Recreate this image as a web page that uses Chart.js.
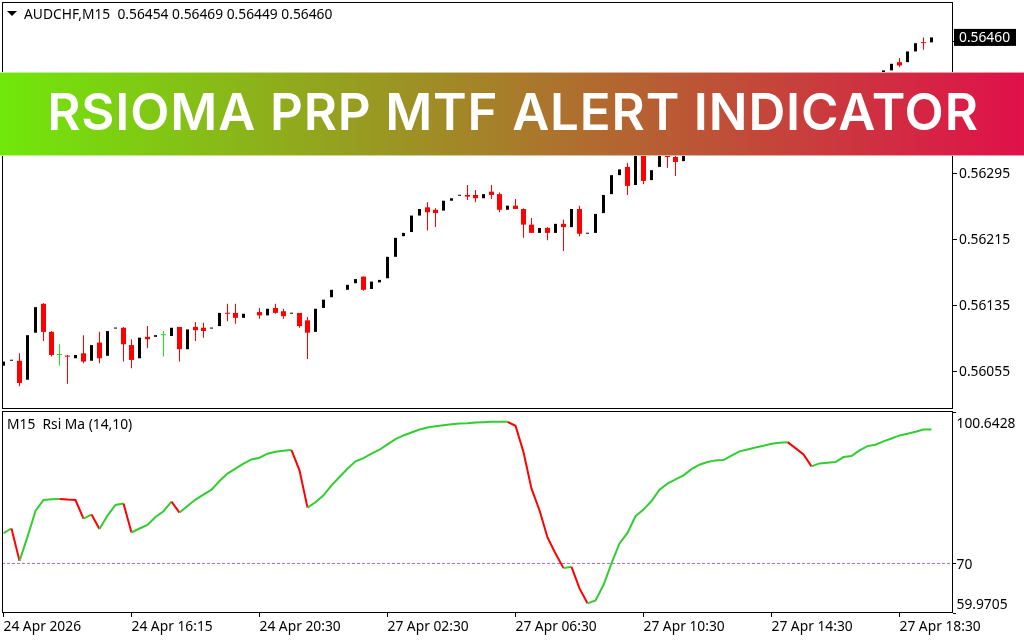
<!DOCTYPE html>
<html>
<head>
<meta charset="utf-8">
<title>AUDCHF M15 RSIOMA</title>
<script src="https://cdn.jsdelivr.net/npm/chart.js@4/dist/chart.umd.min.js"></script>
<style>
    html, body { margin: 0; background: #fff; }
    #page { position: relative; width: 1024px; height: 640px; overflow: hidden; font-family: "Noto Sans", sans-serif; color: #000; }
    canvas { position: absolute; left: 0; }
    #priceChart { top: 0; }
    #rsiChart { top: 411px; }
    .label { position: absolute; font-size: 13.8px; line-height: 18px; white-space: pre; }
    #arrow { position: absolute; left: 7px; top: 11px; width: 0; height: 0; border-left: 5px solid transparent; border-right: 5px solid transparent; border-top: 5px solid #000; }
    #banner {
        position: absolute; left: 0; top: 72px; width: 1024px; height: 84px; box-sizing: border-box;
        border-top: 1px solid rgba(255, 255, 255, .55); border-bottom: 1px solid rgba(255, 255, 255, .55);
        background: linear-gradient(90deg, #70e80a, #e0104a);
        color: #fff; font-family: Inter, sans-serif; font-weight: 600; font-size: 51px; letter-spacing: 0.85px; line-height: 78px;
        text-align: center; white-space: nowrap; padding-left: 2px;
    }
</style>
</head>
<body>
<div id="page">
    <canvas id="priceChart" width="1024" height="411"></canvas>
    <canvas id="rsiChart" width="1024" height="229"></canvas>
    <div id="arrow"></div>
    <div class="label" style="left:24px;top:5px">AUDCHF,M15  0.56454 0.56469 0.56449 0.56460</div>
    <div class="label" style="left:7px;top:415px">M15  Rsi Ma (14,10)</div>
    <div id="banner">RSIOMA PRP MTF ALERT INDICATOR</div>
</div>
<script>
/*===============
data, nulls are bars hidden behind the banner or not visible
====================*/
const opens = [
    0.56062, 0.56068, 0.56068, 0.56045, 0.56102, 0.56137, 0.56103, 0.56075, 0.56074, 0.56071,
    0.56077, 0.56068, 0.56090, 0.56074, 0.56107, 0.56108, 0.56087, 0.56071, 0.56097, 0.56097,
    0.56099, 0.56098, 0.56109, 0.56082, 0.56109, 0.56108, 0.56107, 0.56110, 0.56126, 0.56126,
    0.56120, null, 0.56127, 0.56123, 0.56132, 0.56128, 0.56125, 0.56126, 0.56117, 0.56103,
    0.56132, 0.56145, null, 0.56154, 0.56162, 0.56170, 0.56155, 0.56163, 0.56168, 0.56194,
    0.56219, 0.56224, 0.56244, 0.56254, 0.56251, 0.56250, 0.56262, 0.56268, 0.56269, 0.56269,
    0.56265, 0.56273, 0.56270, 0.56251, 0.56256, 0.56252, 0.56233, 0.56223, 0.56229, 0.56223,
    0.56234, 0.56230, 0.56252, 0.56222, 0.56223, 0.56247, 0.56270, 0.56293, 0.56303, 0.56281,
    0.56330, 0.56287, 0.56303, 0.56323, 0.56315, 0.56310, null, null, null, null,
    0.56336, null, null, null, null, null, null, null, null, null,
    null, null, null, null, null, null, null, null, null, null,
    0.56417, 0.56420, 0.56430, 0.56430, 0.56443, 0.56454, 0.56454
];
const highs = [
    0.56067, 0.56069, 0.56077, 0.56099, 0.56133, 0.56138, 0.56104, 0.56088, 0.56075, 0.56075,
    0.56099, 0.56087, 0.56103, 0.56104, 0.56108, 0.56109, 0.56094, 0.56096, 0.56110, 0.56099,
    0.56104, 0.56108, 0.56109, 0.56106, 0.56115, 0.56114, 0.56108, 0.56126, 0.56137, 0.56137,
    0.56125, null, 0.56132, 0.56131, 0.56137, 0.56131, 0.56126, 0.56126, 0.56121, 0.56131,
    0.56142, 0.56154, null, 0.56160, 0.56167, 0.56170, 0.56164, 0.56166, 0.56194, 0.56217,
    0.56223, 0.56244, 0.56252, 0.56260, 0.56253, 0.56262, 0.56265, 0.56269, 0.56281, 0.56275,
    0.56270, 0.56281, 0.56272, 0.56256, 0.56264, 0.56253, 0.56241, 0.56229, 0.56230, 0.56234,
    0.56239, 0.56252, 0.56256, 0.56223, 0.56246, 0.56269, 0.56293, 0.56300, 0.56308, 0.56323,
    0.56330, 0.56299, 0.56323, 0.56323, 0.56321, 0.56323, null, null, null, null,
    0.56336, null, null, null, null, null, null, null, null, null,
    null, null, null, null, null, null, null, null, null, null,
    0.56420, 0.56428, 0.56435, 0.56443, 0.56453, 0.56460, 0.56469
];
const lows = [
    0.56062, 0.56068, 0.56037, 0.56045, 0.56102, 0.56092, 0.56073, 0.56062, 0.56040, 0.56071,
    0.56065, 0.56068, 0.56065, 0.56074, 0.56107, 0.56067, 0.56059, 0.56071, 0.56083, 0.56097,
    0.56073, 0.56098, 0.56067, 0.56082, 0.56092, 0.56096, 0.56107, 0.56110, 0.56116, 0.56113,
    0.56120, null, 0.56119, 0.56123, 0.56125, 0.56119, 0.56125, 0.56108, 0.56070, 0.56103,
    0.56132, 0.56145, null, 0.56154, 0.56162, 0.56153, 0.56155, 0.56163, 0.56168, 0.56194,
    0.56219, 0.56224, 0.56244, 0.56226, 0.56230, 0.56250, 0.56262, 0.56268, 0.56263, 0.56260,
    0.56265, 0.56264, 0.56248, 0.56251, 0.56252, 0.56217, 0.56223, 0.56223, 0.56214, 0.56223,
    0.56201, 0.56230, 0.56219, 0.56222, 0.56223, 0.56247, 0.56270, 0.56293, 0.56269, 0.56281,
    0.56282, 0.56287, 0.56303, 0.56302, 0.56292, 0.56310, null, null, null, null,
    0.56317, null, null, null, null, null, null, null, null, null,
    null, null, null, null, null, null, null, null, null, null,
    0.56417, 0.56420, 0.56424, 0.56430, 0.56443, 0.56445, 0.56449
];
const closes = [
    0.56067, 0.56069, 0.56041, 0.56099, 0.56133, 0.56103, 0.56075, 0.56075, 0.56073, 0.56075,
    0.56067, 0.56087, 0.56071, 0.56104, 0.56108, 0.56088, 0.56069, 0.56096, 0.56094, 0.56099,
    0.56099, 0.56108, 0.56082, 0.56106, 0.56105, 0.56104, 0.56108, 0.56126, 0.56125, 0.56120,
    0.56125, null, 0.56123, 0.56131, 0.56126, 0.56122, 0.56126, 0.56110, 0.56102, 0.56131,
    0.56142, 0.56154, null, 0.56160, 0.56167, 0.56154, 0.56164, 0.56166, 0.56194, 0.56217,
    0.56223, 0.56244, 0.56252, 0.56248, 0.56247, 0.56262, 0.56265, 0.56269, 0.56267, 0.56265,
    0.56270, 0.56269, 0.56251, 0.56256, 0.56252, 0.56233, 0.56223, 0.56229, 0.56223, 0.56234,
    0.56230, 0.56252, 0.56222, 0.56223, 0.56246, 0.56269, 0.56293, 0.56300, 0.56280, 0.56323,
    0.56286, 0.56299, 0.56323, 0.56315, 0.56309, 0.56323, null, null, null, null,
    0.56323, null, null, null, null, null, null, null, null, null,
    null, null, null, null, null, null, null, null, null, null,
    0.56420, 0.56428, 0.56426, 0.56443, 0.56453, 0.56453, 0.56460
];
const rsiValues = [
    76.12, 77.07, 70.52, 75.37, 80.62, 82.84, 82.98, 83.04, 82.92, 82.84,
    79.08, 79.89, 76.98, 79.69, 81.83, 82.11, 76.26, 77.07, 77.79, 79.41,
    80.56, 82.51, 80.29, 81.63, 82.92, 83.93, 84.94, 86.67, 88.17, 89.17,
    90.18, 91.05, 91.40, 92.20, 92.61, 92.81, 92.93, 88.83, 81.30, 82.37,
    83.79, 85.80, 87.48, 89.17, 90.65, 91.31, 92.20, 93.01, 94.08, 95.15,
    95.90, 96.50, 97.11, 97.51, 97.77, 97.98, 98.18, 98.32, 98.38, 98.52,
    98.58, 98.66, 98.66, 98.66, 97.85, 92.53, 85.14, 80.76, 75.25, 72.02,
    69.05, 69.31, 64.95, 61.93, 62.53, 65.62, 70.00, 74.04, 76.18, 79.55,
    80.90, 82.63, 84.94, 86.15, 87.02, 87.82, 89.09, 89.98, 90.51, 90.85,
    90.91, 91.80, 92.67, 93.07, 93.47, 93.82, 94.22, 94.42, 94.54, 93.33,
    92.06, 89.64, 90.24, 90.39, 90.51, 91.52, 91.72, 92.87, 93.74, 94.02,
    94.69, 95.29, 95.90, 96.24, 96.64, 97.11, 97.11
];
const rsiLevel = 70;
const lastPrice = 0.56460;
const priceTicks = [0.56055, 0.56135, 0.56215, 0.56295, 0.56375, 0.56455];
const rsiTicks = [100.6428, 70, 59.9705];
const timeTickBars = [0, 16, 32, 48, 64, 80, 96, 112];
const timeTickLabels = ['24 Apr 2026', '24 Apr 16:15', '24 Apr 20:30', '27 Apr 02:30', '27 Apr 06:30', '27 Apr 10:30', '27 Apr 14:30', '27 Apr 18:30'];

/*===============
common bits
====================*/
const upColor = '#000000';
const downColor = '#ff0000';
const flatColor = '#1fe01f';
const rsiUpColor = '#32cd32';
const axisFont = { family: '"Noto Sans", sans-serif', size: 13.8 };
const barsMin = -0.1875; // puts bar n at 3.5 + 8n px
const barsMax = 118.6875;

// axes stay hand placed so both panels line up
const xScale = (extra) => Object.assign({ type: 'linear', min: barsMin, max: barsMax, offset: false }, extra);
const fitRightAxis = (s) => { s.width = 71; s.paddingTop = 0; s.paddingBottom = 0; };
const panelBox = {
    id: 'panelBox',
    afterDraw(chart) {
        const { ctx, chartArea } = chart;
        ctx.save();
        ctx.strokeStyle = '#000';
        ctx.lineWidth = 1;
        ctx.strokeRect(2.5, Math.floor(chartArea.top) - 0.5, 950, Math.round(chartArea.bottom) - Math.floor(chartArea.top));
        ctx.restore();
    }
};

/*===============
candles
====================*/
const bars = opens.map((o, i) => ({ i, o, h: highs[i], l: lows[i], c: closes[i] })).filter(b => b.o !== null);
const candleOptions = { grouped: false, borderWidth: 0, inflateAmount: 0, minBarLength: 1 };

const lastPriceTag = {
    id: 'lastPriceTag',
    afterDraw(chart) {
        const { ctx } = chart;
        const y = chart.scales.y.getPixelForValue(lastPrice);
        ctx.save();
        ctx.fillStyle = '#000';
        ctx.fillRect(954, y - 8.5, 62, 17);
        ctx.fillStyle = '#fff';
        ctx.font = '13.8px "Noto Sans", sans-serif';
        ctx.textBaseline = 'middle';
        ctx.fillText(lastPrice.toFixed(5), 959, y + 1);
        ctx.restore();
    }
};

new Chart(document.getElementById('priceChart'), {
    type: 'bar',
    data: {
        datasets: [
            Object.assign({}, candleOptions, {
                label: 'wicks',
                barThickness: 1,
                data: bars.filter(b => b.c <= b.o).map(b => ({ x: b.i, y: [b.l, b.h] })),
                backgroundColor: bars.filter(b => b.c <= b.o).map(b => b.c === b.o ? flatColor : downColor)
            }),
            Object.assign({}, candleOptions, {
                label: 'up',
                barThickness: 3,
                data: bars.filter(b => b.c > b.o).map(b => ({ x: b.i, y: [b.o, b.c] })),
                backgroundColor: upColor
            }),
            Object.assign({}, candleOptions, {
                label: 'down',
                barThickness: 5,
                data: bars.filter(b => b.c < b.o).map(b => ({ x: b.i, y: [b.c, b.o] })),
                backgroundColor: downColor
            }),
            Object.assign({}, candleOptions, {
                label: 'flat',
                barThickness: 5,
                data: bars.filter(b => b.c === b.o).map(b => ({ x: b.i, y: [b.o, b.c] })),
                backgroundColor: flatColor
            })
        ]
    },
    options: {
        responsive: false,
        animation: false,
        devicePixelRatio: 1,
        layout: { padding: { left: 2, top: 3, bottom: 2, right: 0 } },
        plugins: { legend: { display: false }, tooltip: { enabled: false } },
        scales: {
            x: xScale({ display: false }),
            y: {
                position: 'right',
                min: 0.560095,
                max: 0.565017,
                afterFit: fitRightAxis,
                afterBuildTicks: (s) => { s.ticks = priceTicks.map(v => ({ value: v })); },
                border: { display: false },
                grid: { drawOnChartArea: false, tickLength: 4, tickColor: '#000' },
                ticks: { font: axisFont, color: '#000', padding: 2, labelOffset: 1, callback: v => v.toFixed(5) }
            }
        }
    },
    plugins: [panelBox, lastPriceTag]
});

/*===============
rsi panel
====================*/
const rsiLabelRows = [13, 154, 194]; // labels sit off their ticks at the panel edges

const rsiAxisLabels = {
    id: 'rsiAxisLabels',
    afterDraw(chart) {
        const { ctx } = chart;
        ctx.save();
        ctx.fillStyle = '#000';
        ctx.font = '13.8px "Noto Sans", sans-serif';
        ctx.textBaseline = 'middle';
        rsiTicks.forEach((v, i) => ctx.fillText(String(v), 956.5, rsiLabelRows[i]));
        ctx.restore();
    }
};

new Chart(document.getElementById('rsiChart'), {
    type: 'line',
    data: {
        datasets: [
            {
                label: 'Rsi Ma',
                data: rsiValues.map((v, i) => ({ x: i, y: v })),
                borderColor: rsiUpColor,
                borderWidth: 2,
                pointRadius: 0,
                tension: 0,
                segment: {
                    borderColor: c => c.p1.parsed.y < c.p0.parsed.y ? downColor : rsiUpColor
                }
            },
            {
                label: 'level',
                data: [{ x: barsMin, y: rsiLevel }, { x: barsMax, y: rsiLevel }],
                borderColor: '#a968c8',
                borderWidth: 1,
                borderDash: [3, 2],
                pointRadius: 0
            }
        ]
    },
    options: {
        responsive: false,
        animation: false,
        devicePixelRatio: 1,
        layout: { padding: { left: 2, top: 1, bottom: 0, right: 0 } },
        plugins: { legend: { display: false }, tooltip: { enabled: false } },
        scales: {
            x: xScale({
                afterFit: (s) => { s.height = 27; },
                afterBuildTicks: (s) => { s.ticks = timeTickBars.map(v => ({ value: v })); },
                border: { display: false },
                grid: { drawOnChartArea: false, tickLength: 4, tickColor: '#000' },
                ticks: {
                    font: axisFont, color: '#000', align: 'start', padding: 2,
                    autoSkip: false, maxRotation: 0,
                    callback: v => timeTickLabels[timeTickBars.indexOf(v)]
                }
            }),
            y: {
                position: 'right',
                min: rsiTicks[2],
                max: rsiTicks[0],
                afterFit: fitRightAxis,
                afterBuildTicks: (s) => { s.ticks = rsiTicks.map(v => ({ value: v })); },
                border: { display: false },
                grid: { drawOnChartArea: false, tickLength: 3, tickColor: '#000' },
                ticks: { display: false }
            }
        }
    },
    plugins: [panelBox, rsiAxisLabels]
});
</script>
</body>
</html>
